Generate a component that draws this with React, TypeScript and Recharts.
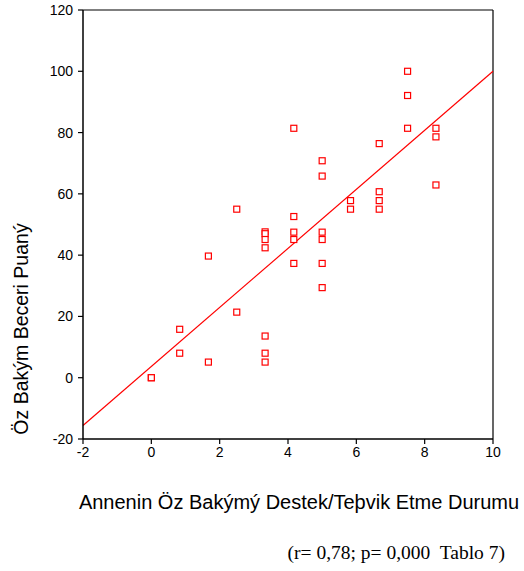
import React from 'react'
import {
  ScatterChart,
  Scatter,
  XAxis,
  YAxis,
  ReferenceLine,
  Label
} from 'recharts'

// Annenin destek puanı (x) ve öz bakım puanı (y)
const supportScores = [
  0, 0, 0.83, 0.83, 1.67, 1.67, 2.5, 2.5,
  3.33, 3.33, 3.33, 3.33, 3.33, 3.33, 3.33,
  4.17, 4.17, 4.17, 4.17, 4.17,
  5, 5, 5, 5, 5, 5,
  5.83, 5.83,
  6.67, 6.67, 6.67, 6.67,
  7.5, 7.5, 7.5,
  8.33, 8.33, 8.33
]
const careScores = [
  0, 0, 15.8, 8.0, 39.7, 5.1, 55.0, 21.4,
  47.6, 47.0, 45.1, 42.4, 13.6, 8.0, 5.1,
  81.4, 52.6, 47.5, 45.1, 37.3,
  70.8, 65.8, 47.5, 45.1, 37.3, 29.4,
  57.8, 55.0,
  76.4, 60.7, 57.8, 55.0,
  100, 92.1, 81.4,
  81.4, 78.6, 62.9
]

// regresyon doğrusunun uç noktaları
const fitX = [-2, 10]
const fitY = [-15.6, 100]

const xTicks = [-2, 0, 2, 4, 6, 8, 10]
const yTicks = [-20, 0, 20, 40, 60, 80, 100, 120]

const xTitle = 'Annenin Öz Bakýmý Destek/Teþvik Etme Durumu'
const yTitle = 'Öz Bakým Beceri Puaný'
const caption = '(r= 0,78; p= 0,000  Tablo 7)'

const points = supportScores.map((x, i) => ({ x, y: careScores[i] }))

const RED = '#ff0000'
const SANS = '"Liberation Sans", Arial, sans-serif'
const tickStyle = { fill: '#000', fontSize: 14, fontFamily: SANS }

const Square = (props: any) => {
  const { cx, cy } = props
  return (
    <rect
      x={cx - 3}
      y={cy - 3}
      width={6}
      height={6}
      fill="#fff"
      stroke={RED}
      strokeWidth={1.2}
    />
  )
}

const App: React.FC = () => {
  return (
    <div style={{ position: 'absolute', left: 0, top: 0, width: 524, height: 571, background: '#fff' }}>
      <ScatterChart
        width={524}
        height={571}
        margin={{ top: 10, right: 31, left: 0, bottom: 0 }}
      >
        <XAxis
          type="number"
          dataKey="x"
          domain={[-2, 10]}
          ticks={xTicks}
          height={132}
          tick={tickStyle}
          tickSize={5}
          tickMargin={3}
          axisLine={{ stroke: '#000', strokeWidth: 1.5 }}
          tickLine={{ stroke: '#000', strokeWidth: 1.2 }}
          allowDataOverflow
        >
          <Label
            content={() => (
              <text
                x={299}
                y={509}
                textAnchor="middle"
                fontSize={20}
                fontFamily={SANS}
                fill="#000"
              >
                {xTitle}
              </text>
            )}
          />
        </XAxis>
        <YAxis
          type="number"
          dataKey="y"
          domain={[-20, 120]}
          ticks={yTicks}
          width={83}
          tick={tickStyle}
          tickSize={5}
          tickMargin={5}
          axisLine={{ stroke: '#000', strokeWidth: 1.5 }}
          tickLine={{ stroke: '#000', strokeWidth: 1.2 }}
          allowDataOverflow
        >
          <Label
            content={() => (
              <text
                x={28}
                y={329}
                transform="rotate(-90 28 329)"
                textAnchor="middle"
                fontSize={19.5}
                fontFamily={SANS}
                fill="#000"
              >
                {yTitle}
              </text>
            )}
          />
        </YAxis>
        <ReferenceLine y={120} stroke="#000" strokeWidth={1.2} />
        <ReferenceLine x={10} stroke="#000" strokeWidth={1.2} />
        <ReferenceLine
          segment={[
            { x: fitX[0], y: fitY[0] },
            { x: fitX[1], y: fitY[1] }
          ]}
          stroke={RED}
          strokeWidth={1.2}
        />
        <Scatter data={points} shape={Square} isAnimationActive={false} />
      </ScatterChart>
      <div
        style={{
          position: 'absolute',
          right: 19,
          top: 541,
          fontFamily: '"Liberation Serif", "Times New Roman", serif',
          fontSize: 19.5,
          lineHeight: '24px',
          whiteSpace: 'pre',
          color: '#000'
        }}
      >
        {caption}
      </div>
    </div>
  )
}

export default App
